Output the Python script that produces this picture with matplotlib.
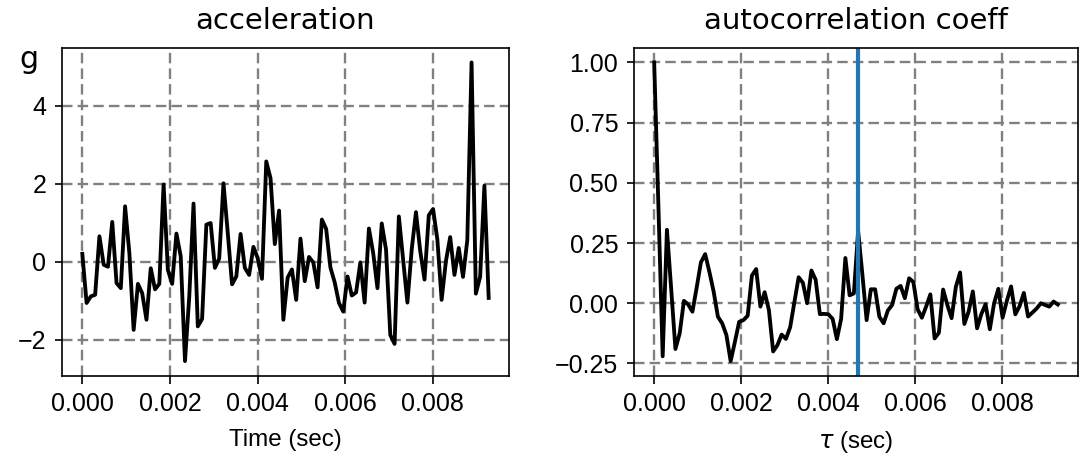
import numpy as np
import matplotlib
matplotlib.use("Agg")
import matplotlib.pyplot as plt

# sampling
fs = 10240.0  # Hz

# measured acceleration (g)
accel = [
    0.20, -1.06, -0.89, -0.85, 0.65, -0.08, -0.13, 1.02, -0.55, -0.68,
    1.42, 0.22, -1.75, -0.57, -0.81, -1.49, -0.17, -0.71, -0.57, 1.98,
    -0.21, -0.57, 0.72, 0.14, -2.55, -0.90, 1.49, -1.66, -1.47, 0.95,
    0.99, -0.16, 0.08, 2.01, 0.74, -0.58, -0.38, 0.71, -0.16, -0.34,
    0.38, 0.09, -0.44, 2.57, 2.14, 0.45, 1.31, -1.49, -0.41, -0.20,
    -0.98, 0.59, -0.50, 0.12, -0.02, -0.66, 1.08, 0.84, -0.15, -0.53,
    -1.06, -1.28, -0.38, -0.87, -0.79, -0.02, -1.05, 0.85, 0.22, -0.68,
    0.98, 0.31, -1.88, -2.11, 1.16, 0.05, -1.05, 0.31, 1.27, 0.27,
    -0.46, 1.19, 1.35, 0.57, -0.98, 0.01, 0.63, -0.34, 0.35, -0.39,
    0.55, 5.11, -0.82, -0.39, 1.95, -0.93,
]

# autocorrelation coefficient per lag
acorr = [
    1.00, 0.40, -0.22, 0.305, 0.06, -0.19, -0.125, 0.01, -0.005, -0.035,
    0.065, 0.17, 0.204, 0.13, 0.048, -0.056, -0.083, -0.132, -0.24, -0.16,
    -0.077, -0.07, -0.052, 0.115, 0.142, -0.014, 0.046, -0.028, -0.20, -0.174,
    -0.13, -0.148, -0.10, 0.005, 0.108, 0.085, 0.0, 0.136, 0.098, -0.045,
    -0.044, -0.046, -0.065, -0.149, -0.065, 0.188, 0.033, 0.041, 0.30, 0.12,
    -0.07, 0.058, 0.058, -0.056, -0.083, -0.03, -0.007, 0.06, 0.072, 0.021,
    0.104, 0.088, -0.025, -0.06, -0.014, 0.037, -0.146, -0.123, 0.057, -0.007,
    -0.062, 0.068, 0.128, -0.086, -0.035, 0.049, -0.104, -0.045, -0.004, -0.108,
    0.0, 0.06, -0.06, 0.01, 0.07, -0.046, -0.012, 0.043, -0.055, -0.039,
    -0.022, 0.0, -0.007, -0.014, 0.007, -0.005,
]

marker_lag = 48  # lag index highlighted with a vertical line

xtick_vals = [0.0, 0.002, 0.004, 0.006, 0.008]
xtick_text = ['0.000', '0.002', '0.004', '0.006', '0.008']
acc_ticks = [-2, 0, 2, 4]
ac_ticks = [-0.25, 0.0, 0.25, 0.5, 0.75, 1.0]
ac_tick_text = ['\u22120.25', '0.00', '0.25', '0.50', '0.75', '1.00']

t = np.arange(len(accel)) / fs
tau = np.arange(len(acorr)) / fs

plt.rcParams['font.family'] = ['Liberation Sans', 'DejaVu Sans']
plt.rcParams['axes.unicode_minus'] = True

fig = plt.figure(figsize=(1081 / 120, 457 / 120), dpi=120)
ax1 = fig.add_axes([62 / 1081, 1 - 376 / 457, (509 - 62) / 1081, (376 - 47.5) / 457])
ax2 = fig.add_axes([634 / 1081, 1 - 376 / 457, (1078 - 634) / 1081, (376 - 47.5) / 457])

grid_kw = dict(color='gray', linestyle='--', linewidth=1.4, dashes=(4.5, 2.2))

ax1.plot(t, accel, color='black', linewidth=2.3)
ax1.set_title('acceleration', fontsize=17.5, family='DejaVu Sans', pad=11)
ax1.set_xlabel('Time (sec)', fontsize=14.5, labelpad=8)
ax1.set_ylabel('g', rotation=0, fontsize=18, family='DejaVu Sans')
ax1.yaxis.set_label_coords(-0.075, 0.92)
ax1.grid(True, **grid_kw)

ax2.plot(tau, acorr, color='black', linewidth=2.3)
ax2.axvline(tau[marker_lag], color='#1f77b4', linewidth=2.5)
ax2.set_title('autocorrelation coeff', fontsize=17.5, family='DejaVu Sans', pad=11)
ax2.set_xlabel(r'$\tau$ (sec)', fontsize=14.5, labelpad=8)
ax2.grid(True, **grid_kw)

for ax in (ax1, ax2):
    ax.tick_params(labelsize=15, width=1.0, length=4.5, pad=5)
    ax.set_xticks(xtick_vals)
    ax.set_xticklabels(xtick_text)
    for s in ax.spines.values():
        s.set_linewidth(1.0)

ax1.set_yticks(acc_ticks)
ax2.set_yticks(ac_ticks)
ax2.set_yticklabels(ac_tick_text)

fig.savefig('out.png', dpi=120)
